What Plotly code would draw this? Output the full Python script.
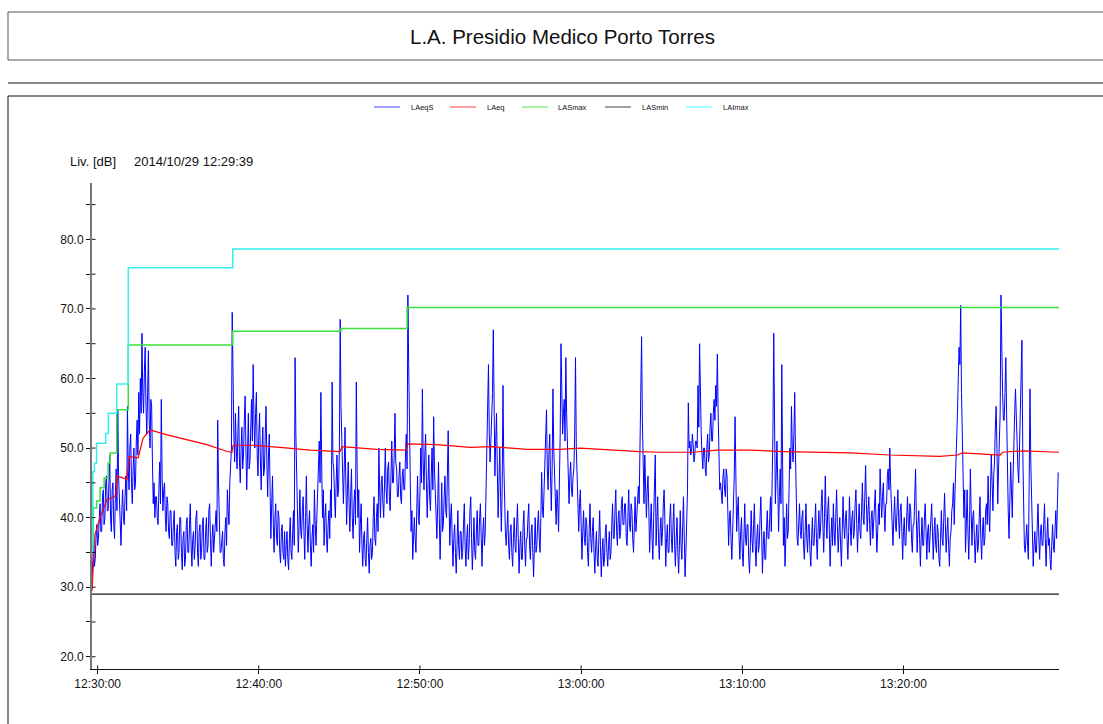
import pandas as pd
import plotly.graph_objects as go

# ---------------- data ----------------
START = "2014-10-29 12:29:39"
STEP_S = 3  # LAeqS sampling step (seconds)

# LAeqS, 20 values per minute (one row per minute)
laeqs_db = [
    31.5, 34, 36, 33, 34, 37, 39, 36, 37, 40, 42, 38, 38, 43, 44, 39, 40, 45, 46, 41,
    41, 45, 49, 40, 38, 44, 45, 39, 37, 43, 47, 41, 55.5, 46, 42, 38, 36, 41, 44, 40,
    39, 43, 46, 41, 56, 47, 44, 50, 52, 45, 42, 47, 50, 44, 45, 51, 54, 49, 58, 52,
    60, 55, 66.5, 58, 55, 61, 64.5, 56, 52, 58, 64, 54, 50, 57, 56, 48, 42, 45, 40, 43,
    43, 40, 39, 44, 48, 42, 57, 46, 41, 44, 45, 40, 38, 43, 42, 38, 37, 41, 41, 36,
    36, 39, 41, 35, 33, 38, 39, 34, 35, 40, 40, 35, 32.5, 37, 38, 33, 34, 39, 40, 35,
    35, 39, 42, 36, 33, 37, 38, 34, 36, 40, 41, 35, 33, 38, 39, 34, 35, 39, 40, 34,
    34, 38, 40, 35, 36, 41, 42, 37, 33, 37, 39, 35, 37, 40, 41, 38, 54, 45, 38, 35,
    35, 37, 38, 34, 33, 38, 40, 36, 44, 41, 39, 45, 47, 50, 69.5, 58, 52, 48, 55, 50,
    47, 52, 56, 48, 45, 50, 53, 47, 49, 54, 57.5, 50, 44, 49, 55, 47, 48, 53, 57, 51,
    62, 54, 50, 55, 58, 49, 46, 52, 55, 48, 44, 50, 53, 46, 47, 52, 56, 48, 43, 49,
    52, 44, 37, 42, 46, 39, 35, 40, 42, 37, 36, 41, 40, 35, 33.5, 38, 39, 35, 34, 38,
    33, 36, 38, 34, 32.5, 37, 40, 35, 34, 38, 41, 36, 63, 52, 45, 40, 35, 39, 44, 38,
    37, 41, 43, 38, 34, 40, 46, 39, 35, 39, 41, 36, 33, 37, 39, 35, 44, 39, 36, 40,
    43, 47, 51, 45, 58, 48, 40, 44, 36, 40, 42, 37, 35, 39, 41, 37, 44, 40, 59.5, 48,
    47, 43, 40, 45, 49, 43, 44, 50, 68.5, 56, 52, 46, 42, 47, 53, 45, 39, 44, 48, 42,
    38, 43, 47, 40, 37, 42, 44, 39, 59.5, 47, 40, 44, 35, 39, 42, 36, 33, 37, 38, 34,
    33, 37, 40, 35, 32, 36, 37, 34, 35, 40, 43, 37, 36, 40, 42, 38, 50, 44, 40, 45,
    46, 42, 40, 45, 50, 44, 42, 47, 48, 43, 41, 46, 51, 45, 45, 49, 55, 48, 47, 43,
    43, 46, 48, 43, 42, 46, 47, 44, 44, 49, 52, 47, 72, 62, 56, 45, 38, 41, 34, 38,
    40, 37, 35, 41, 46, 40, 39, 44, 50, 45, 58.5, 48, 44, 49, 52, 45, 40, 45, 49, 43,
    41, 46, 50, 44, 54.5, 47, 43, 39, 37, 42, 48, 40, 34, 39, 45, 38, 39, 43, 46, 41,
    40, 46, 52.5, 43, 36, 40, 42, 37, 33, 37, 39, 35, 32, 36, 41, 36, 34, 38, 38, 34,
    35, 39, 42, 36, 33, 37, 39, 34, 36, 41, 43, 37, 32.5, 36, 40, 35, 34, 38, 41, 36,
    36, 40, 42, 37, 33, 38, 40, 36, 38, 44, 50, 55, 62, 52, 48, 51, 55, 58, 67, 54,
    46, 51, 55, 47, 40, 45, 50, 43, 38, 44, 59, 48, 42, 38, 36, 40, 41, 36, 34, 38,
    39, 35, 33, 37, 40, 36, 35, 39, 42, 37, 32, 36, 38, 34, 34, 39, 41, 36, 33, 37,
    37, 40, 42, 36, 34, 38, 39, 35, 31.5, 36, 40, 35, 36, 39, 41, 37, 35, 40, 46.5, 41,
    40, 44, 48, 52, 55.5, 47, 44, 49, 52, 46, 41, 47, 58.5, 50, 47, 43, 39, 44, 42, 38,
    44, 52, 65, 56, 52, 55, 57, 51, 63, 55, 49, 45, 42, 46, 48, 44, 43, 46, 47, 52,
    63, 50, 45, 41, 38, 42, 44, 39, 34, 38, 41, 37, 36, 40, 39, 35, 33, 38, 42, 37,
    35, 38, 40, 35, 32, 36, 38, 34, 33, 37, 41, 36, 31.5, 35, 37, 33, 34, 38, 39, 35,
    33, 36, 38, 34, 35, 39, 42, 37, 37, 41, 44, 38, 36, 40, 41, 37, 38, 42, 43, 39,
    39, 42, 42, 37, 36, 40, 44, 39, 38, 42, 41, 37, 35, 39, 43, 38, 40, 43, 44.5, 42,
    52, 58, 66, 54, 45, 42, 49, 43, 40, 44, 46, 41, 35, 39, 42, 37, 34, 40, 44, 49,
    36, 40, 43, 37, 34, 38, 40, 36, 38, 42, 44, 39, 33, 37, 39, 35, 35, 40, 42, 37,
    35, 39, 42, 36, 33, 37, 40, 35, 32, 36, 41, 36, 34, 39, 43, 37, 31.5, 35, 39, 44,
    56.5, 50, 51, 49, 49.5, 52, 50.5, 48, 49, 51, 51, 50, 59, 53, 65, 55, 52, 49, 47, 50,
    50, 47, 46, 50, 52, 48, 49, 53, 55, 51, 51, 55, 57, 54, 59, 56, 63.5, 55, 47, 44,
    45, 43, 42, 46, 47, 44, 43, 47, 46, 41, 36, 40, 41, 37, 34, 38, 42, 46, 54.5, 44,
    38, 41, 43, 37, 34, 38, 40, 35, 33, 37, 42, 37, 36, 39, 39, 34, 32, 36, 41, 37,
    35, 39, 42, 36, 33, 37, 39, 35, 36, 40, 43, 38, 32, 36, 38, 34, 34, 38, 41, 37,
    37, 40, 43, 38, 45, 52, 66.5, 50, 42, 46, 51, 45, 38, 43, 47, 42, 62, 48, 36, 40,
    33, 37, 42, 37, 38, 44, 50, 47, 56, 50, 48, 52, 58, 49, 40, 37, 36, 39, 42, 38,
    37, 40, 41, 36, 34, 38, 42, 37, 35, 39, 39, 35, 33, 37, 40, 36, 36, 39, 42, 37,
    34, 38, 41, 37, 38, 42, 44, 39, 35, 40, 46, 40, 37, 41, 43, 38, 33, 37, 40, 36,
    42, 38, 36, 40, 44, 39, 35, 38, 40, 36, 33, 38, 43, 39, 37, 40, 41, 37, 34, 38,
    43, 39, 36, 40, 41, 37, 38, 42, 44, 39, 35, 39, 42, 38, 37, 41, 45, 40, 39, 43,
    47.5, 42, 38, 41, 43, 39, 36, 40, 41, 37, 39, 42, 44, 39, 35, 38, 42, 39, 47, 43,
    40, 43, 45, 41, 38, 42, 42, 46, 47, 44, 50, 45, 41, 38, 36, 40, 43, 39, 38, 41,
    44, 40, 37, 41, 42, 38, 34, 38, 40, 36, 36, 40, 43, 39, 38, 42, 41, 37, 35, 39,
    39, 43, 47, 40, 35, 39, 41, 37, 33, 37, 40, 36, 36, 40, 42, 38, 34, 38, 39, 35,
    37, 40, 42, 38, 34, 38, 40, 36, 35, 39, 38, 34, 33, 37, 41, 37, 36, 40, 43.5, 39,
    35, 38, 40, 36, 33, 37, 38, 41, 42, 45, 39, 44, 47, 52, 55, 60, 64.5, 62, 70.5, 58,
    52, 46, 40, 44, 35, 39, 44, 38, 34, 39, 47, 41, 36, 40, 41, 37, 33.5, 37, 39, 35,
    36, 40, 43, 37, 34, 38, 40, 36, 37, 41, 42, 39, 46, 41, 38, 44, 49, 45, 41, 46,
    48, 53, 56, 50, 42, 47, 50, 55, 72, 62, 58, 54, 54, 58, 63, 55, 45, 41, 37, 44,
    48, 44, 40, 46, 52, 55, 58.5, 53, 50, 47, 45, 50, 54, 60, 65.5, 50, 38, 36, 35, 38,
    39, 36, 34, 45, 58.5, 48, 41, 37, 33, 36, 38, 35, 35, 39, 42, 37, 34, 38, 39, 36,
    36, 39, 42, 37, 33, 37, 40, 36, 37, 34, 32.5, 36, 39, 36, 35, 38, 41, 37, 43, 46.5,
]

# LAeq (running), time offsets in seconds
laeq_t = [0, 11, 30, 56, 78, 89, 93, 130, 138, 172, 190, 216, 280, 354, 428,
          503, 521, 525, 600, 700, 812, 923, 931, 1061, 1169, 1176, 1284, 1408,
          1494, 1620, 1743, 1817, 1929, 2040, 2116, 2238, 2328, 2450, 2573, 2760,
          2823, 2970, 3156, 3222, 3240, 3381, 3390, 3468, 3531, 3600]
laeq_db = [29.5, 37.6, 40.0, 42.6, 42.9, 43.2, 46.0, 45.5, 48.8, 48.6, 51.4,
           52.6, 51.9, 51.2, 50.5, 49.5, 49.4, 50.4, 50.4, 50.1, 49.7, 49.5,
           50.2, 49.8, 49.7, 50.6, 50.5, 50.1, 50.2, 49.8, 49.8, 50.0, 49.7,
           49.5, 49.4, 49.4, 49.7, 49.7, 49.5, 49.3, 49.3, 49.0, 48.8, 49.0,
           49.3, 49.0, 49.4, 49.6, 49.5, 49.4]

# LASmax (step), time offsets in seconds
lasmax_t = [0, 5, 17, 30, 45, 60, 67, 92, 135, 524, 927, 1173, 3600]
lasmax_db = [36.0, 41.4, 42.4, 44.3, 45.7, 47.8, 49.3, 55.5, 64.8, 66.8, 67.2, 70.2, 70.2]

# LASmin (step)
lasmin_t = [0, 3600]
lasmin_db = [29.0, 29.0]

# LAImax (step)
laimax_t = [0, 3, 9, 17, 51, 61, 92, 135, 524, 3600]
laimax_db = [35.0, 46.6, 47.8, 50.7, 52.1, 55.0, 59.2, 75.9, 78.6, 78.6]

series_names = ["LAeqS", "LAeq", "LASmax", "LASmin", "LAImax"]
series_colors = ["#0000ff", "#ff0000", "#3ce03c", "#1a1a1a", "#33f0f0"]
legend_colors = ["#7f7fff", "#ff7f7f", "#88f088", "#808080", "#80ffff"]

title_text = "L.A. Presidio Medico Porto Torres"
unit_text = "Liv. [dB]"
start_text = "2014/10/29 12:29:39"
y_ticks = [20, 30, 40, 50, 60, 70, 80]
y_minor = [25, 35, 45, 55, 65, 75, 85]
x_ticks = ["2014-10-29 12:30:00", "2014-10-29 12:40:00", "2014-10-29 12:50:00",
           "2014-10-29 13:00:00", "2014-10-29 13:10:00", "2014-10-29 13:20:00"]

# ---------------- figure ----------------
W, H = 1103, 724
L, R, T, B = 92, 44, 183, 55
PW, PH = W - L - R, H - T - B

def px(x):
    return (x - L) / PW

def py(y):
    return (H - B - y) / PH

t0 = pd.Timestamp(START)
laeqs_x = [t0 + pd.Timedelta(seconds=STEP_S * i) for i in range(len(laeqs_db))]

def tx(sec_list):
    return [t0 + pd.Timedelta(seconds=s) for s in sec_list]

fig = go.Figure()
fig.add_trace(go.Scatter(x=laeqs_x, y=laeqs_db, mode="lines",
                         line=dict(color=series_colors[0], width=1), name=series_names[0]))
fig.add_trace(go.Scatter(x=tx(laeq_t), y=laeq_db, mode="lines",
                         line=dict(color=series_colors[1], width=1.2), name=series_names[1]))
fig.add_trace(go.Scatter(x=tx(lasmax_t), y=lasmax_db, mode="lines",
                         line=dict(color=series_colors[2], width=1.5, shape="hv"), name=series_names[2]))
fig.add_trace(go.Scatter(x=tx(lasmin_t), y=lasmin_db, mode="lines",
                         line=dict(color=series_colors[3], width=1.2, shape="hv"), name=series_names[3]))
fig.add_trace(go.Scatter(x=tx(laimax_t), y=laimax_db, mode="lines",
                         line=dict(color=series_colors[4], width=1.5, shape="hv"), name=series_names[4]))

font_fam = "Liberation Sans, Arial, Helvetica, sans-serif"

shapes = [
    dict(type="rect", xref="paper", yref="paper", x0=px(8), x1=px(1115), y0=py(60), y1=py(12),
         line=dict(color="#555555", width=1), fillcolor="rgba(0,0,0,0)", layer="below"),
    dict(type="line", xref="paper", yref="paper", x0=px(8), x1=px(1115), y0=py(83), y1=py(83),
         line=dict(color="#666666", width=1.5)),
    dict(type="rect", xref="paper", yref="paper", x0=px(8), x1=px(1115), y0=py(740), y1=py(96),
         line=dict(color="#111111", width=1), fillcolor="rgba(0,0,0,0)", layer="below"),
]
# inner halves of the crossing ticks
for v in y_ticks + y_minor:
    shapes.append(dict(type="line", xref="paper", yref="y", x0=px(92), x1=px(95.5),
                       y0=v, y1=v, line=dict(color="#111111", width=1)))
for v in x_ticks:
    shapes.append(dict(type="line", xref="x", yref="paper", x0=v, x1=v,
                       y0=py(669), y1=py(665.5), line=dict(color="#111111", width=1)))

annotations = [
    dict(text=title_text, xref="paper", yref="paper", x=px(562), y=py(37),
         showarrow=False, xanchor="center", yanchor="middle",
         font=dict(family=font_fam, size=20.5, color="#111111")),
    dict(text=unit_text, xref="paper", yref="paper", x=px(68), y=py(161),
         showarrow=False, xanchor="left", yanchor="middle",
         font=dict(family=font_fam, size=13, color="#111111")),
    dict(text=start_text, xref="paper", yref="paper", x=px(132), y=py(161),
         showarrow=False, xanchor="left", yanchor="middle",
         font=dict(family=font_fam, size=13, color="#111111")),
]

leg_line_x = [374, 450, 522, 605, 686]
leg_text_x = [409, 485, 556, 640, 721]
for name, col, lx, txx in zip(series_names, legend_colors, leg_line_x, leg_text_x):
    shapes.append(dict(type="line", xref="paper", yref="paper", x0=px(lx), x1=px(lx + 26),
                       y0=py(107), y1=py(107), line=dict(color=col, width=1.5)))
    annotations.append(dict(text=name, xref="paper", yref="paper", x=px(txx), y=py(107),
                            showarrow=False, xanchor="left", yanchor="middle",
                            font=dict(family=font_fam, size=7.5, color="#111111")))

fig.update_layout(
    width=W, height=H,
    margin=dict(l=L, r=R, t=T, b=B, pad=0),
    paper_bgcolor="white", plot_bgcolor="white",
    showlegend=False,
    shapes=shapes, annotations=annotations,
    font=dict(family=font_fam, size=12, color="#111111"),
)
fig.update_xaxes(
    type="date",
    range=[t0, t0 + pd.Timedelta(seconds=3600)],
    tickvals=x_ticks, tickformat="%H:%M:%S",
    showgrid=False, zeroline=False,
    showline=True, linecolor="#111111", linewidth=1,
    ticks="outside", ticklen=4, tickcolor="#111111",
    tickfont=dict(family=font_fam, size=12, color="#111111"),
)
fig.update_yaxes(
    range=[18.24, 88.1],
    tickvals=y_ticks, tickformat=".1f",
    showgrid=False, zeroline=False,
    showline=True, linecolor="#777777", linewidth=2,
    ticks="outside", ticklen=4, tickcolor="#111111",
    minor=dict(tickvals=y_minor, ticks="outside", ticklen=4, tickcolor="#111111", showgrid=False),
    tickfont=dict(family=font_fam, size=12, color="#111111"),
)

fig.write_html("out.html")
